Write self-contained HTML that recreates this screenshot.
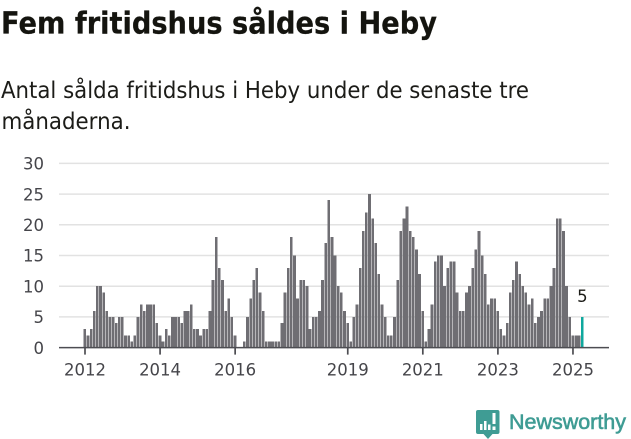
<!DOCTYPE html>
<html lang="sv">
<head>
<meta charset="utf-8">
<title>Fem fritidshus såldes i Heby</title>
<style>
html,body{margin:0;padding:0;background:#fff;width:631px;height:439px;overflow:hidden}
svg{display:block}
text{font-family:"DejaVu Sans","Liberation Sans",sans-serif}
</style>
</head>
<body>
<svg id="chart" xmlns="http://www.w3.org/2000/svg" width="631" height="439" viewBox="0 0 631 439">
  <text x="1" y="33.3" font-size="30" font-weight="700" fill="#14140f" stroke="#14140f" stroke-width="0.25" textLength="436" lengthAdjust="spacingAndGlyphs">Fem fritidshus såldes i Heby</text>
  <text x="1" y="98" font-size="23" fill="#1c1c18" textLength="528" lengthAdjust="spacingAndGlyphs">Antal sålda fritidshus i Heby under de senaste tre</text>
  <text x="1.5" y="129" font-size="23" fill="#1c1c18" textLength="129" lengthAdjust="spacingAndGlyphs">månaderna.</text>
  <g id="grid"></g>
  <g id="y-labels"></g>
  <g id="bars" shape-rendering="crispEdges"></g>
  <g id="x-axis"></g>
  <g id="annotation"></g>
  <g>
    <path d="M478 410H497.5Q499.5 410 499.5 412V432Q499.5 434 497.5 434H492.5L488 439L483.5 434H478Q476 434 476 432V412Q476 410 478 410Z" fill="#3f9c94"/>
    <rect x="480" y="424" width="2.5" height="6" fill="#fff"/>
    <rect x="484" y="421" width="2.5" height="9" fill="#fff"/>
    <rect x="488" y="424.5" width="2.5" height="5.5" fill="#fff"/>
    <rect x="492.5" y="413" width="3" height="11" fill="#fff"/>
    <rect x="492.5" y="426.5" width="3" height="3.5" fill="#fff"/>
    <text x="509" y="429" font-size="21" font-weight="400" fill="#3f9c94" stroke="#3f9c94" stroke-width="0.6" textLength="117" lengthAdjust="spacingAndGlyphs" style="font-family:'Liberation Sans',sans-serif">Newsworthy</text>
  </g>
</svg>
<script>
// Monthly values, January 2012 onward
const startYear = 2012;
const values2012 = [3,2,3,6,10,10,9,6,5,5,4,5];
const values2013 = [5,2,2,1,2,5,7,6,7,7,7,4];
const values2014 = [2,1,3,2,5,5,5,4,6,6,7,3];
const values2015 = [3,2,3,3,6,11,18,13,11,6,8,5];
const values2016 = [2,0,0,1,5,8,11,13,9,6,1,1];
const values2017 = [1,1,1,4,9,13,18,15,8,11,11,10];
const values2018 = [3,5,5,6,11,17,24,18,15,10,9,6];
const values2019 = [4,1,5,7,13,19,22,25,21,17,12,7];
const values2020 = [5,2,2,5,11,19,21,23,19,18,16,12];
const values2021 = [6,1,3,7,14,15,15,10,13,14,14,9];
const values2022 = [6,6,9,10,13,16,19,15,12,7,8,8];
const values2023 = [6,3,2,4,9,11,14,12,10,9,7,8];
const values2024 = [4,5,6,8,8,10,13,21,21,19,10,5];
const values2025 = [2,2,2,5];
const values = [].concat(values2012,values2013,values2014,values2015,values2016,values2017,values2018,values2019,values2020,values2021,values2022,values2023,values2024,values2025);
const categories = values.map(function(_, i){ return (startYear + Math.floor(i / 12)) + '-' + String(i % 12 + 1).padStart(2, '0'); });
const yTicks = [0,5,10,15,20,25,30];
const xTickYears = [2012,2014,2016,2019,2021,2023,2025];

const NS = 'http://www.w3.org/2000/svg';
const plotLeft = 59, plotRight = 609, baseY = 347.6, pxPerUnit = 6.14;
const firstX = 85, pxPerMonth = 3.128, barWidth = 2.7, barOffset = 1.5;
function xScale(monthIndex){ return firstX + pxPerMonth * monthIndex; }
function xOfYear(year){ return xScale((year - startYear) * 12); }
function yScale(v){ return baseY - pxPerUnit * v; }
function make(tag, attrs, parent){
  const el = document.createElementNS(NS, tag);
  for (const k in attrs) el.setAttribute(k, attrs[k]);
  parent.appendChild(el);
  return el;
}

const gridG = document.getElementById('grid');
const yLabelG = document.getElementById('y-labels');
yTicks.forEach(function(t){
  if (t > 0) {
    const line = make('line', {x1: plotLeft, x2: plotRight, y1: yScale(t), y2: yScale(t), stroke: '#e2e2e2', 'stroke-width': 1.5}, gridG);
    
    
  }
  const label = make('text', {x: 44, y: yScale(t) + 6.2, 'text-anchor': 'end', 'font-size': 16.5, fill: '#45454a'}, yLabelG);
  
  
  label.textContent = t;
});

const barsG = document.getElementById('bars');
values.forEach(function(v, i){
  if (v <= 0) return;
  const isLast = i === values.length - 1;
  const bar = make('rect', {x: xScale(i) - barOffset, y: yScale(v), width: barWidth, height: baseY - yScale(v), fill: isLast ? '#0fa89e' : '#6f6e73'}, barsG);
  
  
});

const xG = document.getElementById('x-axis');
const axisLine = make('line', {x1: plotLeft, x2: plotRight, y1: baseY, y2: baseY, stroke: '#4d4d52', 'stroke-width': 1.5}, xG);


xTickYears.forEach(function(year){
  const tick = make('line', {x1: xOfYear(year), x2: xOfYear(year), y1: baseY, y2: baseY + 7, stroke: '#4d4d52', 'stroke-width': 1.7}, xG);
  
  
  const label = make('text', {x: xOfYear(year), y: 375.5, 'text-anchor': 'middle', 'font-size': 16.5, fill: '#45454a'}, xG);
  
  
  label.textContent = year;
});

const annG = document.getElementById('annotation');
const lastIndex = values.length - 1;
const lastLabel = make('text', {x: xScale(lastIndex), y: yScale(values[lastIndex]) - 15, 'text-anchor': 'middle', 'font-size': 16.5, fill: '#1c1c18', stroke: '#fff', 'stroke-width': 4, 'paint-order': 'stroke'}, annG);


lastLabel.textContent = values[lastIndex];
</script>
</body>
</html>
